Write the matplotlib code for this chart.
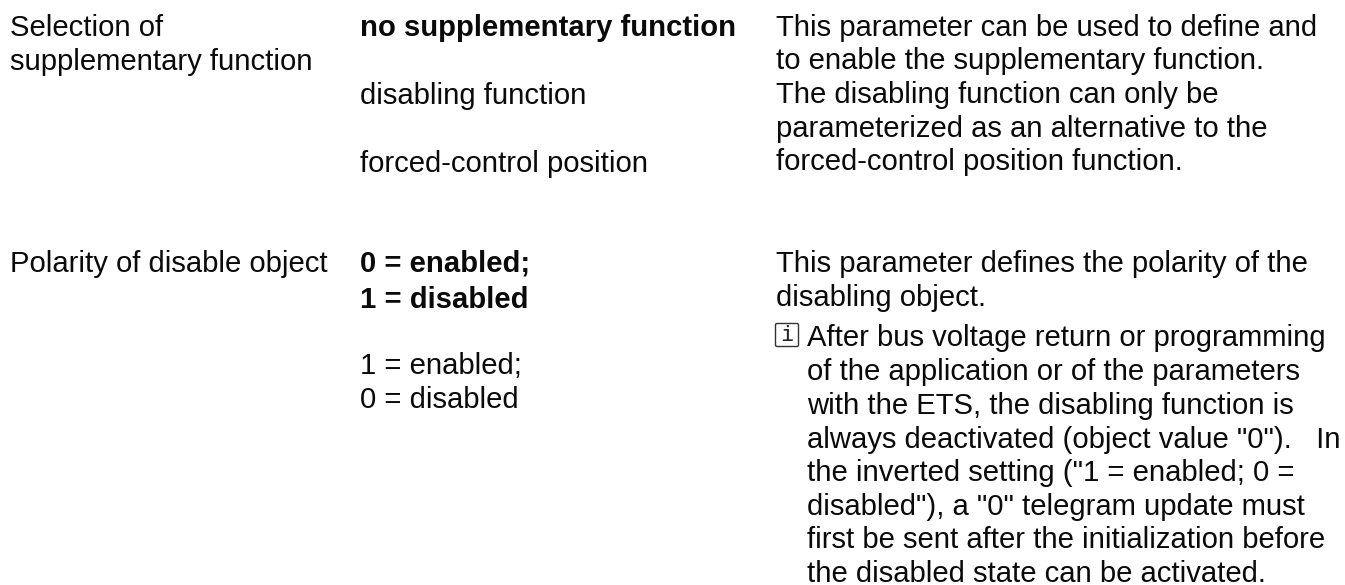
import matplotlib
matplotlib.use('Agg')
import matplotlib.pyplot as plt
from matplotlib.patches import FancyBboxPatch

plt.rcParams['font.family'] = ['Liberation Sans', 'DejaVu Sans']

W, H = 1345, 585

# text lines: (x, baseline y, text)
left_lines = [
    (10, 36, 'Selection of'),
    (10, 69.5, 'supplementary function'),
    (10, 272, 'Polarity of disable object'),
]
option_lines = [
    (360, 36.5, 'no supplementary function', True),
    (360, 104, 'disabling function', False),
    (360, 171.5, 'forced-control position', False),
    (360, 272, '0 = enabled;', True),
    (360, 307.5, '1 = disabled', True),
    (360, 374, '1 = enabled;', False),
    (360, 408, '0 = disabled', False),
]
right_lines = [
    (776.5, 35.5, 'This parameter can be used to define and'),
    (776.5, 69, 'to enable the supplementary function.'),
    (776.5, 103, 'The disabling function can only be'),
    (776.5, 137, 'parameterized as an alternative to the'),
    (776.5, 170.5, 'forced-control position function.'),
    (776.5, 272, 'This parameter defines the polarity of the'),
    (776.5, 305.5, 'disabling object.'),
]
note_lines = [
    (807, 346.5, 'After bus voltage return or programming'),
    (807, 380, 'of the application or of the parameters'),
    (807, 414, 'with the ETS, the disabling function is'),
    (807, 447.5, 'always deactivated (object value "0").   In'),
    (807, 481, 'the inverted setting ("1 = enabled; 0 ='),
    (807, 515, 'disabled"), a "0" telegram update must'),
    (807, 548, 'first be sent after the initialization before'),
    (807, 581.5, 'the disabled state can be activated.'),
]

fig = plt.figure(figsize=(W / 100, H / 100), dpi=100)
ax = fig.add_axes([0, 0, 1, 1])
ax.set_xlim(0, W)
ax.set_ylim(H, 0)
ax.axis('off')

fs = 21.1
for x, y, s in left_lines + right_lines + note_lines:
    ax.text(x, y, s, fontsize=fs, va='baseline', color='#0a0a0a')
for x, y, s, b in option_lines:
    ax.text(x, y, s, fontsize=fs, va='baseline', color='#0a0a0a', fontweight='bold' if b else 'normal')

# info icon in front of the note
ax.add_patch(FancyBboxPatch((775.5, 323.5), 23, 23, boxstyle='round,pad=0,rounding_size=1.5',
                            fill=False, edgecolor='#333333', linewidth=1.0))
ax.text(787, 335, 'i', fontsize=16, family='DejaVu Sans Mono', ha='center', va='center', color='#222222')

fig.savefig('out.png', dpi=100)
